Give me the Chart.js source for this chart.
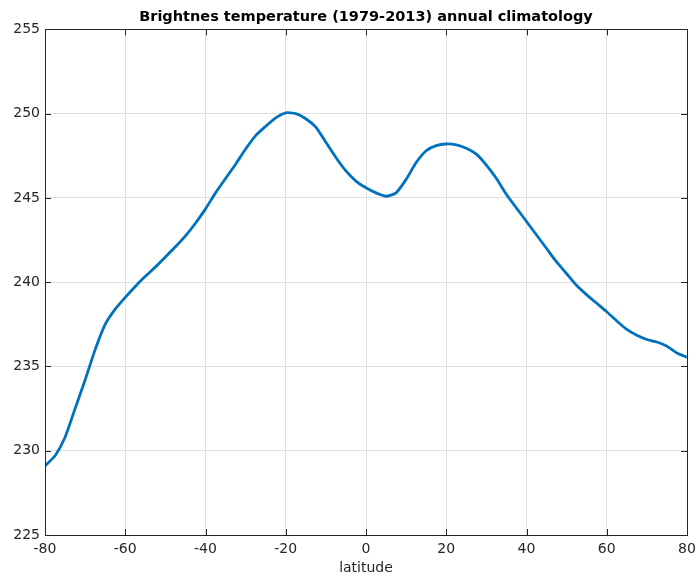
<!DOCTYPE html>
<html>
<head>
<meta charset="utf-8">
<script src="https://cdn.jsdelivr.net/npm/chart.js@4"></script>
<style>
  html, body { margin: 0; padding: 0; background: #fff; }
  #wrap { width: 697px; height: 577px; }
</style>
</head>
<body>
<div id="wrap"><canvas id="chart"></canvas></div>
<script>
// latitude grid, every 2.5 degrees
const latitudes = [
  -80, -77.5, -75, -72.5, -70, -67.5, -65, -62.5, -60, -57.5, -55, -52.5, -50,
  -47.5, -45, -42.5, -40, -37.5, -35, -32.5, -30, -27.5, -25, -22.5, -20,
  -17.5, -15, -12.5, -10, -7.5, -5, -2.5, 0, 2.5, 5, 7.5, 10, 12.5, 15,
  17.5, 20, 22.5, 25, 27.5, 30, 32.5, 35, 37.5, 40, 42.5, 45, 47.5, 50,
  52.5, 55, 57.5, 60, 62.5, 65, 67.5, 70, 72.5, 75, 77.5, 80
];
// brightness temperature (K)
const brightTemp = [
  229.1, 229.7, 230.8, 232.5, 234.2, 236.0, 237.5, 238.4, 239.1, 239.75, 240.35, 240.9, 241.5,
  242.1, 242.75, 243.5, 244.35, 245.3, 246.15, 247.0, 247.9, 248.7, 249.25, 249.75, 250.05,
  250.0, 249.7, 249.2, 248.3, 247.4, 246.6, 246.0, 245.6, 245.3, 245.1, 245.3, 246.1, 247.1, 247.8,
  248.1, 248.2, 248.15, 247.95, 247.6, 246.95, 246.15, 245.2, 244.4, 243.6, 242.8, 242.0, 241.2, 240.5,
  239.8, 239.25, 238.75, 238.25, 237.7, 237.2, 236.85, 236.6, 236.45, 236.2, 235.8, 235.55
];
const xTicks = [-80, -60, -40, -20, 0, 20, 40, 60, 80];
const yTicks = [225, 230, 235, 240, 245, 250, 255];

const axisColor = '#262626';
const gridColor = '#dfdfdf';
const font = 'DejaVu Sans';

// matlab style box with inward tick marks
const boxPlugin = {
  id: 'box',
  afterDraw(chart) {
    const { ctx, chartArea: a, scales } = chart;
    ctx.save();
    ctx.strokeStyle = axisColor;
    ctx.lineWidth = 1;
    ctx.beginPath();
    xTicks.forEach(v => {
      const px = Math.round(scales.x.getPixelForValue(v)) + 0.5;
      ctx.moveTo(px, a.bottom); ctx.lineTo(px, a.bottom - 6);
      ctx.moveTo(px, a.top); ctx.lineTo(px, a.top + 6);
    });
    yTicks.forEach(v => {
      const py = Math.round(scales.y.getPixelForValue(v)) + 0.5;
      ctx.moveTo(a.left, py); ctx.lineTo(a.left + 6, py);
      ctx.moveTo(a.right, py); ctx.lineTo(a.right - 6, py);
    });
    ctx.stroke();
    ctx.strokeRect(Math.round(a.left) + 0.5, Math.round(a.top) + 0.5,
      Math.round(a.right - a.left), Math.round(a.bottom - a.top));
    ctx.restore();
  }
};

new Chart(document.getElementById('chart'), {
  type: 'line',
  data: {
    datasets: [{
      data: latitudes.map((lat, i) => ({ x: lat, y: brightTemp[i] })),
      borderColor: '#0072BD',
      borderWidth: 2.8,
      pointRadius: 0,
      tension: 0.2,
      fill: false
    }]
  },
  options: {
    responsive: true,
    maintainAspectRatio: false,
    animation: false,
    layout: { padding: { left: 0, right: 10, top: 0, bottom: 0 } },
    plugins: {
      legend: { display: false },
      tooltip: { enabled: false },
      title: {
        display: true,
        fullSize: false,
        text: 'Brightnes temperature (1979-2013) annual climatology',
        color: '#000',
        font: { family: font, size: 14.5, weight: 'bold' },
        padding: { top: 9, bottom: 3 }
      }
    },
    scales: {
      x: {
        type: 'linear',
        min: -80,
        max: 80,
        afterBuildTicks: s => { s.ticks = xTicks.map(v => ({ value: v })); },
        afterFit: s => { s.height = 42; s.paddingLeft = 0; s.paddingRight = 0; },
        grid: { color: gridColor, drawTicks: false },
        border: { display: false },
        ticks: {
          color: axisColor,
          font: { family: font, size: 14 },
          padding: 6,
          maxRotation: 0
        },
        title: {
          display: true,
          text: 'latitude',
          color: axisColor,
          font: { family: font, size: 14 },
          padding: { top: 0, bottom: 0 }
        }
      },
      y: {
        min: 225,
        max: 255,
        afterBuildTicks: s => { s.ticks = yTicks.map(v => ({ value: v })); },
        afterFit: s => { s.width = 45; },
        grid: { color: gridColor, drawTicks: false },
        border: { display: false },
        ticks: {
          color: axisColor,
          font: { family: font, size: 14 },
          padding: 5
        }
      }
    }
  },
  plugins: [boxPlugin]
});
</script>
</body>
</html>
